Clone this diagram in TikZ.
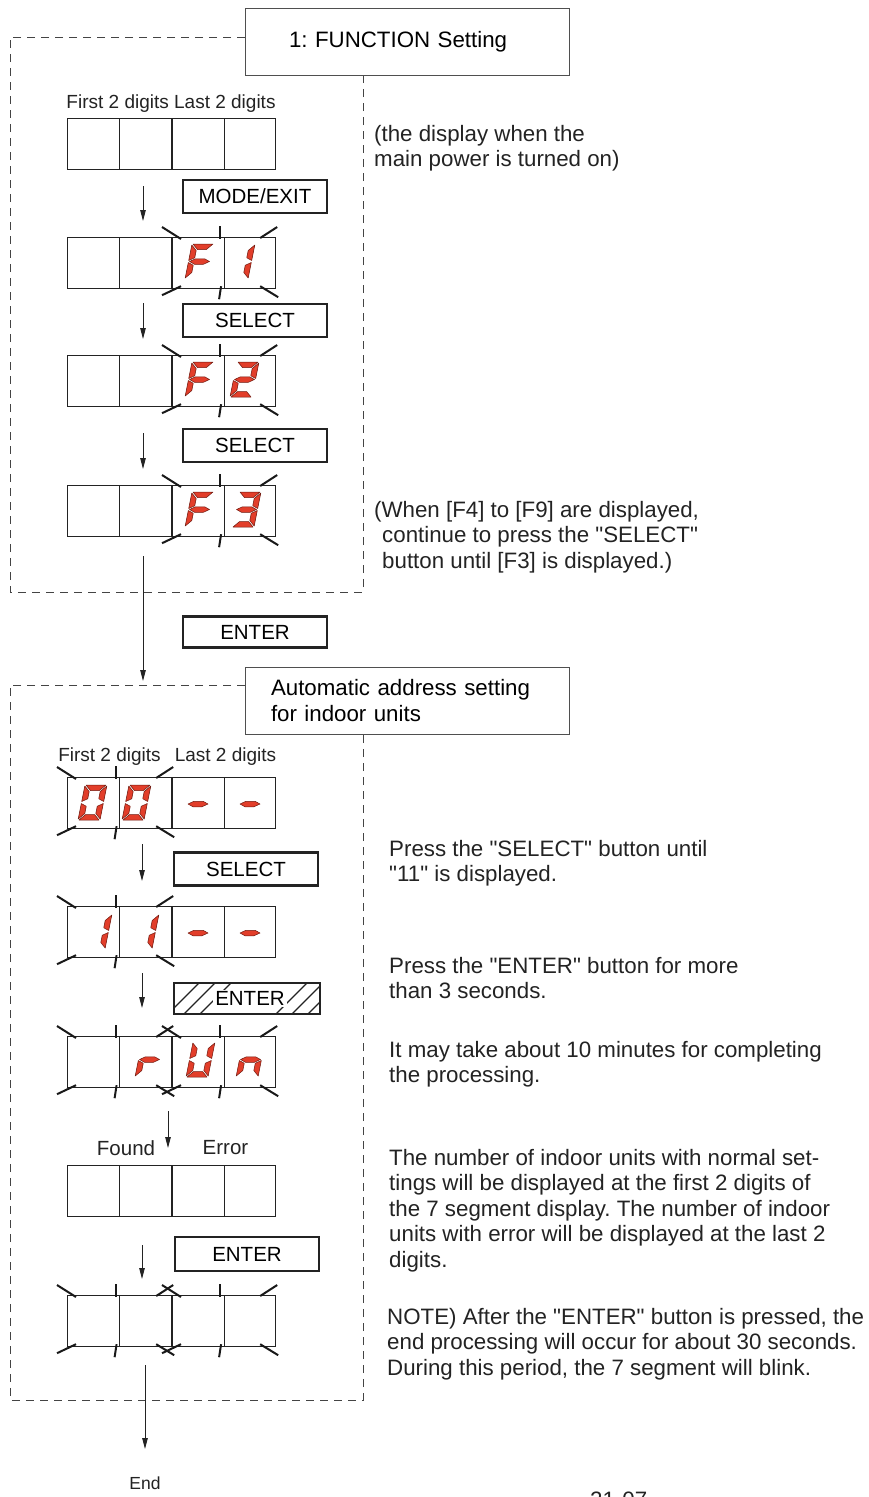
\documentclass[tikz,border=0pt]{standalone}
\usepackage{fontspec}
\setmainfont{Liberation Sans}[Ligatures=TeXOff]
\frenchspacing
\usetikzlibrary{arrows.meta}
\definecolor{segred}{RGB}{226,62,42}
\definecolor{segdark}{RGB}{110,25,15}
\definecolor{ink}{RGB}{35,35,35}
\newcommand\maintext{\fontsize{22.3}{25.5}\selectfont}
\newcommand\btnfont{\fontsize{20.5}{24}\selectfont}
\newcommand\lblfont{\fontsize{19}{22}\selectfont}
\newcommand\sgA{\path[segment] (1,0) -- (21,0) -- (15.5,5.5) -- (6.5,5.5) -- cycle;}
\newcommand\sgD{\path[segment] (1,35) -- (21,35) -- (15.5,29.5) -- (6.5,29.5) -- cycle;}
\newcommand\sgF{\path[segment] (0,1) -- (5.5,6.5) -- (5.5,13.75) -- (0,16.5) -- cycle;}
\newcommand\sgB{\path[segment] (22,1) -- (16.5,6.5) -- (16.5,13.75) -- (22,16.5) -- cycle;}
\newcommand\sgE{\path[segment] (0,18.5) -- (5.5,21.25) -- (5.5,28.5) -- (0,34) -- cycle;}
\newcommand\sgC{\path[segment] (22,18.5) -- (16.5,21.25) -- (16.5,28.5) -- (22,34) -- cycle;}
\newcommand\sgG{\path[segment] (1,17.5) -- (6.5,14.75) -- (15.5,14.75) -- (21,17.5) -- (15.5,20.25) -- (6.5,20.25) -- cycle;}
\newcommand\sevenseg[3]{\begin{scope}[shift={(#1,#2)},xslant=0.2]\foreach \s in {#3}{\csname sg\s\endcsname}\end{scope}}
\newcommand\blink[1]{%
\draw[blinkmark] ([shift={(-10,-10)}]#1.north west) -- ([shift={(9,2)}]#1.north west);
\draw[blinkmark] ([shift={(-16,1)}]#1.north east) -- ([shift={(1,-10)}]#1.north east);
\draw[blinkmark] ([shift={(-10,6)}]#1.south west) -- ([shift={(9,-3)}]#1.south west);
\draw[blinkmark] ([shift={(-16,-3)}]#1.south east) -- ([shift={(2,8)}]#1.south east);
\draw[blinkmark] ([shift={(-4,-11)}]#1.north) -- ([shift={(-4,2)}]#1.north);
\draw[blinkmark] ([shift={(-3,-3)}]#1.south) -- ([shift={(-5,10)}]#1.south);}
\begin{document}
\begin{tikzpicture}[x=1pt,y=-1pt,
  module/.style={draw=ink, line width=1.2pt, minimum height=51pt, inner sep=0pt, anchor=north west,
    path picture={\draw[line width=1.2pt,ink] (path picture bounding box.north) -- (path picture bounding box.south);}},
  moda/.style={module, minimum width=104pt},
  modb/.style={module, minimum width=103pt},
  button/.style={draw=ink, line width=2.5pt, inner sep=0pt, minimum width=144pt, minimum height=33pt, font=\btnfont},
  titlebox/.style={draw=ink!80, line width=1pt, minimum width=324pt, minimum height=67pt, inner ysep=0pt, align=left, font=\maintext},
  frame/.style={draw=ink!85, line width=1pt, dash pattern=on 8pt off 6pt},
  flow/.style={draw=ink, line width=1pt, -{Triangle[length=11pt,width=5.5pt]}},
  blinkmark/.style={line width=2pt, draw=black!90},
  txt/.style={align=left, anchor=north west, inner sep=0pt, font=\maintext, text=ink},
  lbl/.style={inner sep=0pt, font=\lblfont, text=ink},
  segment/.style={fill=segred, draw=segdark, line width=0.5pt, line join=round}]
\useasboundingbox (0,0) rectangle (869,1497);
\fill[white] (0,0) rectangle (869,1497);

% ---------------- Section 1 ----------------
\draw[frame] (245,37) -- (10,37) -- (10,592) -- (363,592) -- (363,75);
\node[titlebox, text width=236pt, inner xsep=44pt] (t1) at (407,41.5) {1: FUNCTION Setting};

\node[lbl] (l1) at (171,104) {First 2 digits Last 2 digits};
\node[moda] (r1a) at (67,118) {};
\node[modb] (r1b) at (172,118) {};

\coordinate (a1s) at (143,186); \coordinate (a1e) at (143,221);
\draw[flow] (a1s) -- (a1e);
\node[button] (b1) at (255,196.5) {MODE/EXIT};

\node[moda] (r2a) at (67,237) {};
\node[modb] (r2b) at (172,237) {};
\sevenseg{192}{244}{A,F,E,G}
\sevenseg{233}{244}{B,C}
\blink{r2b}

\coordinate (a2s) at (143,303); \coordinate (a2e) at (143,339);
\draw[flow] (a2s) -- (a2e);
\node[button] (b2) at (255,320.5) {SELECT};

\node[moda] (r3a) at (67,355) {};
\node[modb] (r3b) at (172,355) {};
\sevenseg{192}{362}{A,F,E,G}
\sevenseg{237}{362}{A,B,G,E,D}
\blink{r3b}

\coordinate (a3s) at (143,433); \coordinate (a3e) at (143,469);
\draw[flow] (a3s) -- (a3e);
\node[button] (b3) at (255,445.5) {SELECT};

\node[moda] (r4a) at (67,485) {};
\node[modb] (r4b) at (172,485) {};
\sevenseg{192}{492}{A,F,E,G}
\sevenseg{239}{492}{A,B,G,C,D}
\blink{r4b}

\node[txt] (p1) at (374,125) {(the display when the\\main power is turned on)};
\node[txt] (p2) at (374,501) {(When [F4] to [F9] are displayed,\\\hspace*{8pt}continue to press the "SELECT"\\\hspace*{8pt}button until [F3] is displayed.)};

\coordinate (a4s) at (143,556); \coordinate (a4e) at (143,681);
\draw[flow] (a4s) -- (a4e);
\node[button, minimum height=31pt] (b4) at (255,632) {ENTER};

% ---------------- Section 2 ----------------
\draw[frame] (245,685) -- (10,685) -- (10,1400) -- (363,1400) -- (363,734);
\node[titlebox, text width=272pt, inner xsep=26pt] (t2) at (407,700.5) {Automatic address setting\\for indoor units};

\node[lbl] (l2) at (109.5,757) {First 2 digits};
\node[lbl] (l3) at (225.5,757) {Last 2 digits};
\node[moda] (r5a) at (67,777) {};
\node[modb] (r5b) at (172,777) {};
\sevenseg{85}{785}{A,B,C,D,E,F}
\sevenseg{129}{785}{A,B,C,D,E,F}
\sevenseg{190.5}{786.5}{G}
\sevenseg{242.5}{786.5}{G}
\blink{r5a}

\coordinate (a5s) at (142,844); \coordinate (a5e) at (142,881);
\draw[flow] (a5s) -- (a5e);
\node[button] (b5) at (246,869) {SELECT};

\node[moda] (r6a) at (67,906) {};
\node[modb] (r6b) at (172,906) {};
\sevenseg{90}{914}{B,C}
\sevenseg{137}{914}{B,C}
\sevenseg{190.5}{915.5}{G}
\sevenseg{242.5}{915.5}{G}
\blink{r6a}

\coordinate (a6s) at (142,973); \coordinate (a6e) at (142,1008);
\draw[flow] (a6s) -- (a6e);
\begin{scope}
\clip (174,983) rectangle (320,1014);
\foreach \hx in {168,184,200,276,292,308} {\draw[line width=1.2pt, ink] (\hx,1014) -- (\hx+31,983);}
\end{scope}
\node[fill=white, inner xsep=2pt, inner ysep=1pt, font=\btnfont] (b6t) at (250,998.5) {ENTER};
\node[button, minimum width=146pt, minimum height=31pt] (b6) at (247,998.5) {};

\node[moda] (r7a) at (67,1036) {};
\node[modb] (r7b) at (172,1036) {};
\sevenseg{142}{1042}{E,G}
\sevenseg{193}{1042}{B,C,D,E,F}
\sevenseg{243}{1042}{C,E,G}
\blink{r7a}
\blink{r7b}

\coordinate (a7s) at (168,1111); \coordinate (a7e) at (168,1148);
\draw[flow] (a7s) -- (a7e);
\node[lbl, font=\btnfont] (l4) at (126,1148) {Found};
\node[lbl, font=\btnfont] (l5) at (225.5,1148) {Error};
\node[moda] (r8a) at (67,1165) {};
\node[modb] (r8b) at (172,1165) {};

\coordinate (a8s) at (142,1245); \coordinate (a8e) at (142,1279);
\draw[flow] (a8s) -- (a8e);
\node[button, minimum height=34pt] (b7) at (247,1254) {ENTER};

\node[moda] (r9a) at (67,1295) {};
\node[modb] (r9b) at (172,1295) {};
\blink{r9a}
\blink{r9b}

\node[txt] (p3) at (389,840) {Press the "SELECT" button until\\"11" is displayed.};
\node[txt] (p4) at (389,957) {Press the "ENTER" button for more\\than 3 seconds.};
\node[txt] (p5) at (389,1041) {It may take about 10 minutes for completing\\the processing.};
\node[txt] (p6) at (389,1149) {The number of indoor units with normal set-\\tings will be displayed at the first 2 digits of\\the 7 segment display. The number of indoor\\units with error will be displayed at the last 2\\digits.};
\node[txt] (p7) at (387,1308) {NOTE) After the "ENTER" button is pressed, the\\end processing will occur for about 30 seconds.\\During this period, the 7 segment will blink.};

\coordinate (a9s) at (145,1365);
\node[lbl, font=\fontsize{17.5}{20}\selectfont] (endn) at (145,1483) {End};
\coordinate (a9e) at (145,1449);
\draw[flow] (a9s) -- (a9e);

\node[anchor=base west, inner sep=0pt, font=\maintext, text=ink] (pg) at (590,1507) {21-07};
\end{tikzpicture}
\end{document}
